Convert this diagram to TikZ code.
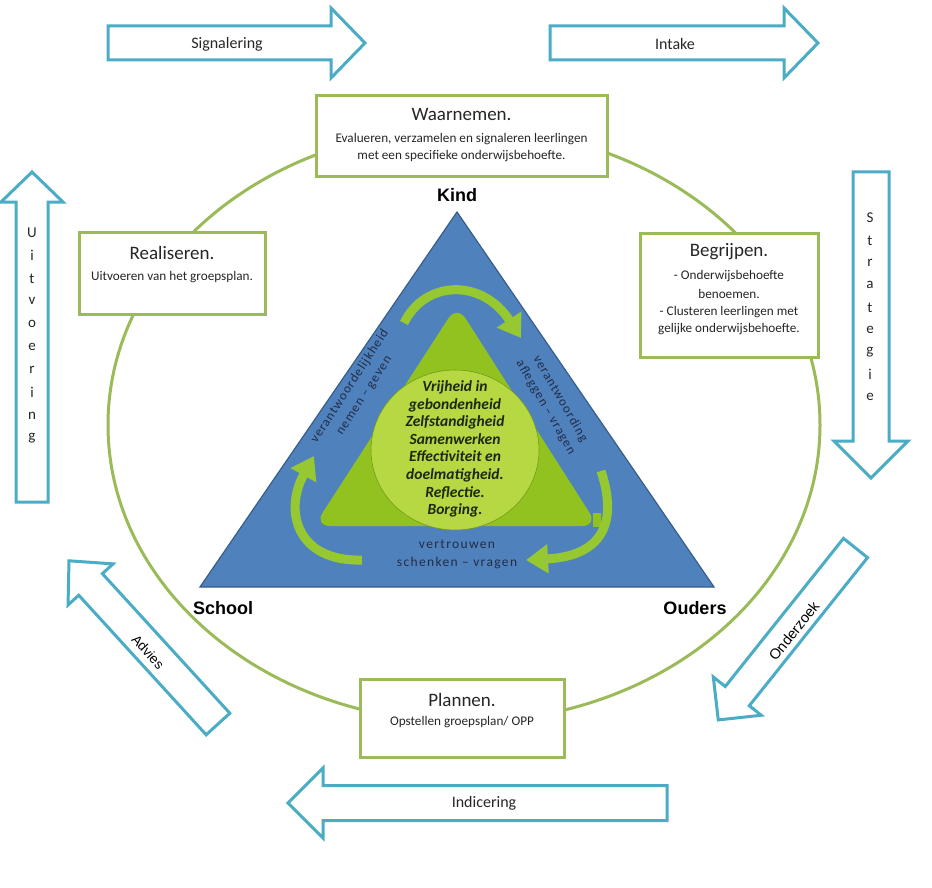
\documentclass[tikz,border=0pt]{standalone}
\usepackage{fontspec}
\setmainfont{Carlito}
\newfontfamily\arialf{Liberation Sans}
\usetikzlibrary{arrows.meta}
\definecolor{gboxc}{RGB}{155,187,89}
\definecolor{barc}{RGB}{75,172,198}
\definecolor{triblue}{RGB}{79,129,189}
\definecolor{triblueD}{RGB}{56,93,138}
\definecolor{limeA}{RGB}{146,194,31}
\definecolor{limeB}{RGB}{182,216,66}
\definecolor{limeC}{RGB}{150,200,50}
\definecolor{navytxt}{RGB}{35,45,70}
\definecolor{darktxt}{RGB}{30,40,15}
\newcommand{\blockarr}[6]{%
  \begin{scope}[shift={#1}, rotate=#2]
    \draw[arrline] (0,-#4) -- ({#3-#6},-#4) -- ({#3-#6},-#5) -- (#3,0) -- ({#3-#6},#5) -- ({#3-#6},#4) -- (0,#4) -- cycle;
  \end{scope}}
\begin{document}
\begin{tikzpicture}[x=1pt,y=-1pt,
  gbox/.style={draw=gboxc, line width=3pt, fill=white, inner sep=0pt},
  arrline/.style={draw=barc, line width=3pt, fill=white, line join=miter},
  ttl/.style={font=\fontsize{19}{21}\selectfont, text=black!85},
  btxt/.style={font=\fontsize{13.2}{15}\selectfont, text=black!85},
  lbl/.style={font=\fontsize{16}{18}\selectfont, text=black!85},
  vletter/.style={font=\fontsize{15}{17}\selectfont, text=black!85},
  corner/.style={font=\arialf\bfseries\fontsize{18}{20}\selectfont, text=black},
  sidetxt/.style={font=\fontsize{13}{17}\selectfont\addfontfeatures{LetterSpace=8}, text=navytxt, align=center, inner sep=0pt},
  cycarr/.style={draw=limeC, line width=9pt, -{Triangle[width=28pt,length=22pt]}},
]
\useasboundingbox (0,0) rectangle (932,888);
\fill[white] (0,0) rectangle (932,888);

% big cycle ellipse
\draw[gboxc, line width=3pt] (464,425) ellipse [x radius=356pt, y radius=297pt];

% block arrows
\blockarr{(108,43)}{0}{257}{17}{35}{34}
\node[lbl] (sig) at (227,44) {Signalering};
\blockarr{(550,43)}{0}{268}{17}{35}{34}
\node[lbl] (int) at (675,44) {Intake};
\blockarr{(871,172)}{-90}{306}{18}{37}{37}
\blockarr{(32,502)}{90}{330}{16}{31}{30}
\blockarr{(667,803)}{180}{379}{17.5}{35}{35}
\node[lbl] (ind) at (484,803) {Indicering};
\blockarr{(218,724)}{132.4}{221}{16}{30.5}{32}
\node[font=\arialf\fontsize{13.5}{15}\selectfont, rotate=-47.6] (adv) at (148,652) {Advies};
\blockarr{(855.5,548)}{-128.6}{220}{15.4}{30.7}{30.5}
\node[font=\arialf\fontsize{14.5}{16}\selectfont, rotate=51.4] (ond) at (794,631) {Onderzoek};

% vertical letters
\foreach \ch [count=\i from 0] in {U,i,t,v,o,e,r,i,n,g}
  \node[vletter] (u\i) at (32,{233+22.8*\i}) {\ch};
\foreach \ch [count=\i from 0] in {S,t,r,a,t,e,g,i,e}
  \node[vletter] (s\i) at (870,{218+22.4*\i}) {\ch};

% boxes
\node[gbox, minimum width=291pt, minimum height=81pt] (waar) at (461.5,136.5) {};
\node[ttl] (waart) at (461.5,114) {Waarnemen.};
\node[btxt] (waar1) at (461.5,139) {Evalueren, verzamelen en signaleren leerlingen};
\node[btxt] (waar2) at (461.5,156) {met een specifieke onderwijsbehoefte.};

\node[gbox, minimum width=186pt, minimum height=82pt] (real) at (172,273) {};
\node[ttl] (realt) at (172,253) {Realiseren.};
\node[btxt] (real1) at (172,277) {Uitvoeren van het groepsplan.};

\node[gbox, minimum width=178pt, minimum height=124pt] (begr) at (729,295) {};
\node[ttl] (begrt) at (729,252) {Begrijpen.};
\node[btxt] (begr1) at (729,276) {- Onderwijsbehoefte};
\node[btxt] (begr2) at (729,294) {benoemen.};
\node[btxt] (begr3) at (729,312) {- Clusteren leerlingen met};
\node[btxt] (begr4) at (729,329) {gelijke onderwijsbehoefte.};

\node[gbox, minimum width=204pt, minimum height=78pt] (plan) at (462,718) {};
\node[ttl] (plant) at (462,700) {Plannen.};
\node[btxt] (plan1) at (462,722) {Opstellen groepsplan/ OPP};

% triangle
\coordinate (apex) at (457,212);
\coordinate (bl) at (200,587);
\coordinate (br) at (714,587);
\draw[fill=triblue, draw=triblueD, line width=1.2pt, line join=miter] (apex) -- (br) -- (bl) -- cycle;
\fill[limeA, rounded corners=16pt] (456,526) -- (598,526) -- (457,305) -- (314,526) -- cycle;
\fill[limeA] (593,513) rectangle (601,527);
\draw[fill=limeB, draw=limeA!80!black, line width=0.6pt] (455,450) ellipse [x radius=84pt, y radius=80pt];

% cycle arrows
\draw[cycarr] (404,323) .. controls (425,280) and (482,278) .. (521,338);
\draw[cycarr] (601,471) .. controls (618,522) and (603,556) .. (526,560);
\draw[cycarr] (362,560) .. controls (298,562) and (283,512) .. (314,456);

% labels in triangle
\node[sidetxt, rotate=57] (lside) at (357,391) {verantwoordelijkheid\\nemen -- geven};
\node[sidetxt, rotate=-60] (rside) at (553,403) {verantwoording\\afleggen -- vragen};
\node[sidetxt, font=\fontsize{13.5}{18}\selectfont\addfontfeatures{LetterSpace=10}] (bside) at (457,554) {vertrouwen\\schenken -- vragen};

\node[font=\bfseries\itshape\fontsize{15.5}{17.6}\selectfont, text=darktxt, align=center] (core) at (455,449)
  {Vrijheid in\\gebondenheid\\Zelfstandigheid\\Samenwerken\\Effectiviteit en\\doelmatigheid.\\Reflectie.\\Borging.};

\node[corner] (kind) at (457,195) {Kind};
\node[corner] (school) at (223,608) {School};
\node[corner] (ouders) at (695,608) {Ouders};
\end{tikzpicture}
\end{document}
